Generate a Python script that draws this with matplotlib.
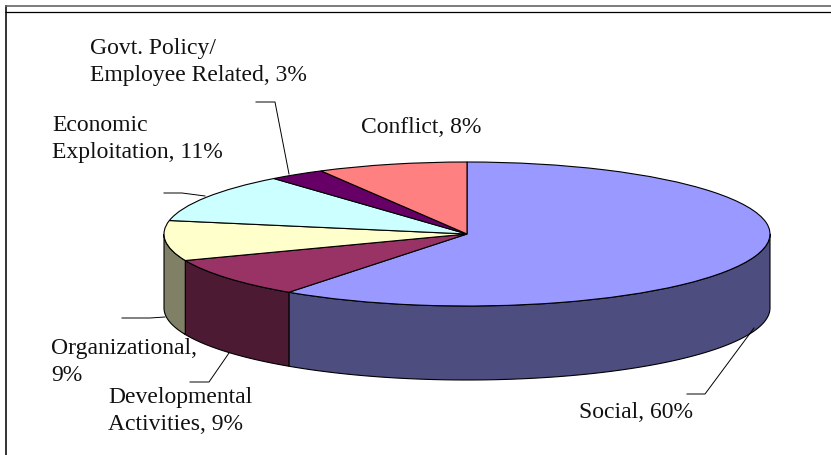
import matplotlib
matplotlib.use( 'Agg' )
import matplotlib.pyplot as plt
import numpy as np
from matplotlib.patches import Polygon

W, H = 831, 456

names = [ 'Social', 'Developmental\nActivities', 'Organizational,\n', 'Economic\nExploitation',
          'Govt. Policy/\nEmployee Related', 'Conflict' ]
values = [ 60, 9, 9, 11, 3, 8 ]
top_colors = [ '#9999FF', '#993366', '#FFFFCC', '#CCFFFF', '#660066', '#FF8080' ]
side_colors = [ '#4D4D80', '#4D1A33', '#808066', '#668080', '#330033', '#804040' ]

# label anchor: left edge, baseline of last line (pixels)
label_pos = [ ( 579, 418 ), ( 108, 430 ), ( 51, 381 ), ( 52, 158 ), ( 90, 81 ), ( 361, 133 ) ]

leaders = [ [ ( 687, 395 ), ( 705, 395 ), ( 754, 329 ) ],
            [ ( 190, 383 ), ( 209, 383 ), ( 229, 354 ) ],
            [ ( 122, 319 ), ( 150, 319 ), ( 165, 318 ) ],
            [ ( 164, 194 ), ( 182, 194 ), ( 205, 197 ) ],
            [ ( 256, 103 ), ( 275, 103 ), ( 289, 175 ) ] ]

# ellipse box in pixels
cx, cy, rx, ry = 467, 235, 303, 72
depth = 74

plt.rcParams[ 'font.family' ] = 'Liberation Serif'

fig = plt.figure( figsize = ( W / 100, H / 100 ), dpi = 100, facecolor = 'white' )

# pixel overlay for frame, leaders and labels
ov = fig.add_axes( [ 0, 0, 1, 1 ], zorder = 3 )
ov.set_xlim( 0, W )
ov.set_ylim( H, 0 )
ov.axis( 'off' )
ov.patch.set_alpha( 0 )

ax = fig.add_axes( [ ( cx - rx ) / W, 1 - ( cy + ry ) / H, 2 * rx / W, 2 * ry / H ], zorder = 2 )
wedges, _ = ax.pie( values, colors = top_colors, startangle = 90, counterclock = False, radius = 1,
                    wedgeprops = { 'edgecolor': 'k', 'linewidth': 0.8, 'clip_on': False, 'zorder': 3 } )
ax.set_aspect( 'auto' )
ax.set_xlim( -1, 1 )
ax.set_ylim( -1, 1 )
ax.axis( 'off' )

# side walls only where the wedge faces the viewer
d = depth / ry
for w, c in zip( wedges, side_colors ):
    t1 = max( w.theta1, -180 )
    t2 = min( w.theta2, 0 )
    if t2 <= t1:
        continue
    t = np.radians( np.linspace( t1, t2, 80 ) )
    xs = np.cos( t )
    ys = np.sin( t )
    pts = np.column_stack( [ np.r_[ xs, xs[ ::-1 ] ], np.r_[ ys, ys[ ::-1 ] - d ] ] )
    ax.add_patch( Polygon( pts, closed = True, facecolor = c, edgecolor = 'k', linewidth = 0.8,
                           clip_on = False, zorder = 2 ) )

# frame
ov.plot( [ 6, 6 ], [ 6, H ], color = '#333333', lw = 1.4, solid_capstyle = 'butt' )
ov.plot( [ 5, W ], [ 6.5, 6.5 ], color = '#666666', lw = 1.2, solid_capstyle = 'butt' )
ov.plot( [ 5, W ], [ 12.5, 12.5 ], color = 'k', lw = 0.9, solid_capstyle = 'butt' )

for pts in leaders:
    ov.plot( [ p[ 0 ] for p in pts ], [ p[ 1 ] for p in pts ], color = 'k', lw = 0.7 )

for name, v, ( x, y ) in zip( names, values, label_pos ):
    if name.endswith( '\n' ):
        s = name + '%d%%' % v
    else:
        s = name + ', %d%%' % v
    ov.text( x, y, s, fontsize = 17, color = '#111111', ha = 'left', va = 'baseline', linespacing = 1.4 )

fig.savefig( 'out.png', dpi = 100 )
